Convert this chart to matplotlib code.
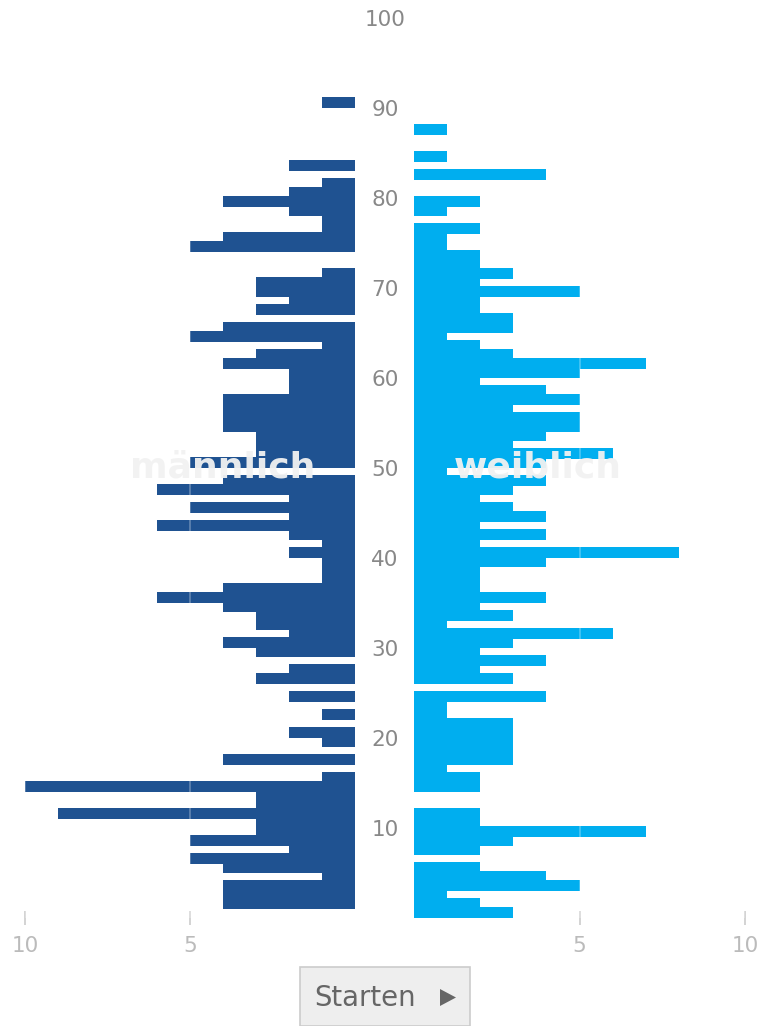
import matplotlib
matplotlib.use("Agg")
import matplotlib.pyplot as plt
from matplotlib import transforms
from matplotlib.patches import Rectangle, Polygon

# ---- data (age -> count) ----
ages_male = list(range(0, 91))
male = [0, 4, 4, 4, 1, 4, 5, 2, 5, 3,
        3, 9, 3, 3, 10, 1, 0, 4, 0, 1,
        2, 0, 1, 0, 2, 0, 3, 2, 0, 3,
        4, 2, 3, 3, 4, 6, 4, 1, 1, 1,
        2, 1, 2, 6, 2, 5, 2, 6, 4, 0,
        5, 3, 3, 3, 4, 4, 4, 4, 2, 2,
        2, 4, 3, 1, 5, 4, 0, 3, 2, 3,
        3, 1, 0, 0, 5, 4, 1, 1, 2, 4,
        2, 1, 0, 2, 0, 0, 0, 0, 0, 0,
        1]
ages_female = list(range(0, 88))
female = [3, 2, 1, 5, 4, 2, 0, 2, 3, 7,
          2, 2, 0, 0, 2, 2, 1, 3, 3, 3,
          3, 3, 1, 1, 4, 0, 3, 2, 4, 2,
          3, 6, 1, 3, 2, 4, 2, 2, 2, 4,
          8, 2, 4, 2, 4, 3, 2, 3, 4, 1,
          4, 6, 3, 4, 5, 5, 3, 5, 4, 2,
          5, 7, 3, 2, 1, 3, 3, 2, 2, 5,
          2, 3, 2, 2, 1, 1, 2, 0, 1, 2,
          0, 0, 4, 0, 1, 0, 0, 1]
age_ticks = [10, 20, 30, 40, 50, 60, 70, 80, 90, 100]
value_ticks = [5, 10]
series_labels = ["männlich", "weiblich"]
button_label = "Starten"

MALE_C = "#1f5291"
FEMALE_C = "#00aeef"

W, H = 763, 1026
fig = plt.figure(figsize=(W / 100, H / 100), dpi=100)
fig.patch.set_facecolor("white")

def fx(px):
    return px / W

def fy(py):
    return 1 - py / H

y0, y100 = 918, 18
axL = fig.add_axes([fx(25), fy(y0), fx(355) - fx(25), fy(y100) - fy(y0)])
axR = fig.add_axes([fx(414), fy(y0), fx(745) - fx(414), fy(y100) - fy(y0)])

axL.barh(ages_male, male, height=1.22, align="edge", color=MALE_C, linewidth=0)
axR.barh(ages_female, female, height=1.22, align="edge", color=FEMALE_C, linewidth=0)

axL.set_xlim(10, 0)
axR.set_xlim(0, 10)
for ax in (axL, axR):
    ax.set_ylim(0, 100)
    for s in ax.spines.values():
        s.set_visible(False)
    ax.set_yticks([])
    ax.set_xticks(value_ticks)
    ax.set_xticklabels([str(v) for v in value_ticks])
    ax.tick_params(axis="x", direction="inout", length=9.5, width=1.2,
                   color="#cccccc", labelcolor="#bbbbbb", labelsize=15.5, pad=8)
    for v in value_ticks:
        ax.axvline(v, color="white", alpha=0.3, lw=1.2, zorder=3)
    ax.set_facecolor("none")

# center age labels
tr = transforms.blended_transform_factory(fig.transFigure, axL.transData)
for a in age_ticks:
    fig.text(fx(385), a - 0.2, str(a), transform=tr, ha="center", va="center",
             fontsize=15.5, color="#888888")

# series labels
axL.text(4.02, 50, series_labels[0], ha="center", va="center", fontsize=26,
         fontweight="bold", color="#f2f2f2", alpha=0.95, zorder=5)
axR.text(3.75, 50, series_labels[1], ha="center", va="center", fontsize=26,
         fontweight="bold", color="#f2f2f2", alpha=0.95, zorder=5)

# button
btn = Rectangle((fx(300), 0), fx(470) - fx(300), fy(967), transform=fig.transFigure,
                facecolor="#eeeeee", edgecolor="#cccccc", lw=1.2)
fig.patches.append(btn)
fig.text(fx(365.5), fy(998), button_label, ha="center", va="center",
         fontsize=19.8, color="#666666")
tri = Polygon([[fx(440), fy(989)], [fx(440), fy(1006)], [fx(456), fy(997.5)]],
              closed=True, transform=fig.transFigure, facecolor="#666666", edgecolor="none")
fig.patches.append(tri)

fig.savefig("out.png", dpi=100)
